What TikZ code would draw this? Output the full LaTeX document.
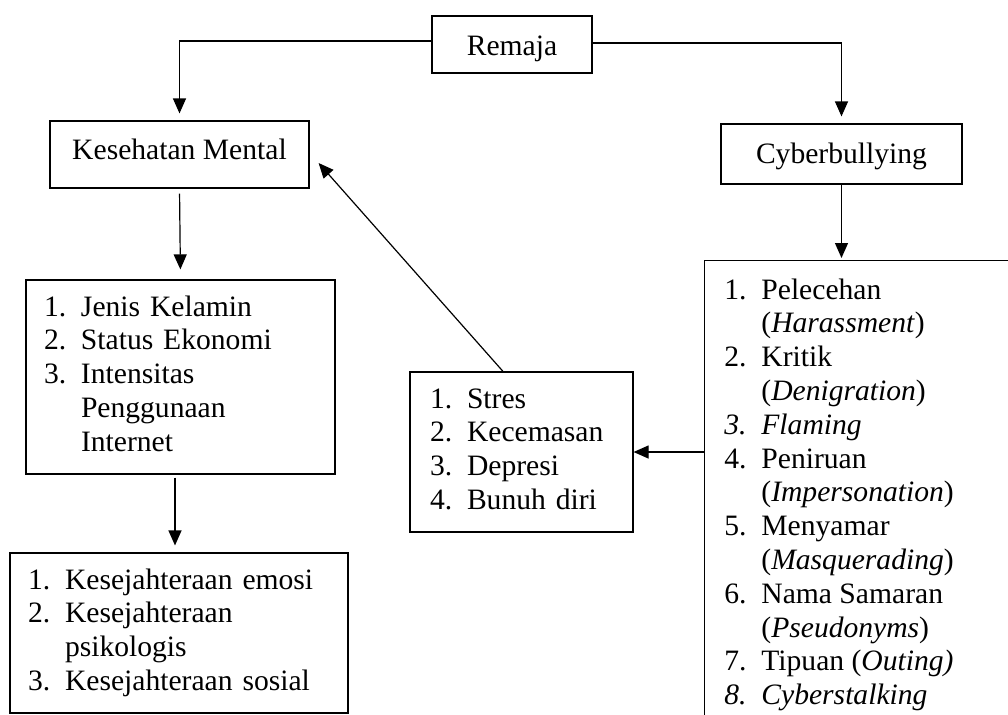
\documentclass[tikz,border=0pt]{standalone}
\usepackage{fontspec}
\setmainfont{Liberation Serif}
\usetikzlibrary{arrows.meta,calc}
\newcommand{\itm}[1]{\makebox[18.5pt][l]{#1}}
\begin{document}
\begin{tikzpicture}[x=0.5pt,y=-0.5pt,
  every node/.style={font=\fontsize{14.8pt}{16.9pt}\selectfont},
  box/.style={draw=black, line width=0.6pt, rectangle, inner sep=0pt},
  single/.style={box},
  listbox/.style={box, align=left, inner xsep=9pt},
  arr/.style={-{Triangle[length=7.5pt,width=6.5pt]}, line width=0.6pt},
  ln/.style={line width=0.6pt}]
\useasboundingbox (0,0) rectangle (1008,714);
\clip (0,0) rectangle (1008,714);

\node[single, text height=12pt, text depth=1.5pt, minimum width=80pt, minimum height=28.5pt] (remaja) at (512,44.5) {Remaja};
\node[single, text height=9.9pt, text depth=5.1pt, minimum width=129.5pt, minimum height=33.5pt] (kes) at (179.5,154.5) {Kesehatan Mental};
\node[single, text height=10.5pt, text depth=1.5pt, minimum width=120.5pt, minimum height=30pt] (cyber) at (841.5,154) {Cyberbullying};

\node[listbox, text width=136.5pt, minimum height=97pt] (faktor) at (180.5,377) {%
\begin{tabular}{@{}l@{}l@{}}
\itm{1.} & Jenis Kelamin\\
\itm{2.} & Status Ekonomi\\
\itm{3.} & Intensitas\\
 & Penggunaan\\
 & Internet
\end{tabular}};

\node[listbox, text width=151pt, minimum height=80pt] (sejahtera) at (179,633) {%
\begin{tabular}{@{}l@{}l@{}}
\itm{1.} & Kesejahteraan emosi\\
\itm{2.} & Kesejahteraan\\
 & psikologis\\
\itm{3.} & Kesejahteraan sosial
\end{tabular}};

\node[listbox, inner xsep=10pt, text width=91.5pt, minimum height=80pt] (dampak) at (521.5,452) {%
\begin{tabular}{@{}l@{}l@{}}
\itm{1.} & Stres\\
\itm{2.} & Kecemasan\\
\itm{3.} & Depresi\\
\itm{4.} & Bunuh diri
\end{tabular}};

\node[box, anchor=north west, minimum width=160pt, minimum height=235pt] (jenis) at (704,260) {};
\node[anchor=base west, inner sep=0pt] (jenistext) at (724,299) {%
\begin{tabular}[t]{@{}l@{}l@{}}
\itm{1.} & Pelecehan\\
 & (\textit{Harassment})\\
\itm{2.} & Kritik\\
 & (\textit{Denigration})\\
\itm{\textit{3.}} & \textit{Flaming}\\
\itm{4.} & Peniruan\\
 & (\textit{Impersonation})\\
\itm{5.} & Menyamar\\
 & (\textit{Masquerading})\\
\itm{6.} & Nama Samaran\\
 & (\textit{Pseudonyms})\\
\itm{7.} & Tipuan (\textit{Outing)}\\
\itm{\textit{8.}} & \textit{Cyberstalking}
\end{tabular}};

\draw[arr, shorten >=3.5pt] ([yshift=1.75pt]remaja.west) -| (kes.north);
\draw[arr, shorten >=3.5pt] ([yshift=0.75pt]remaja.east) -| (cyber.north);
\draw[arr, shorten <=2.5pt, shorten >=5pt] (kes.south) -- (faktor.north);
\draw[arr, shorten <=1.5pt, shorten >=3.5pt] ([xshift=-2.75pt]faktor.south) -- ([xshift=-2.75pt]faktor.south |- sejahtera.north);
\draw[arr, shorten >=1pt] (cyber.south) -- (cyber.south |- jenis.north);
\draw[arr] (jenis.west |- dampak.east) -- (dampak.east);
\draw[arr] ($(dampak.north)+(-18.5,0)$) -- ($(kes.east)+(9,8.5)$);
\end{tikzpicture}
\end{document}
